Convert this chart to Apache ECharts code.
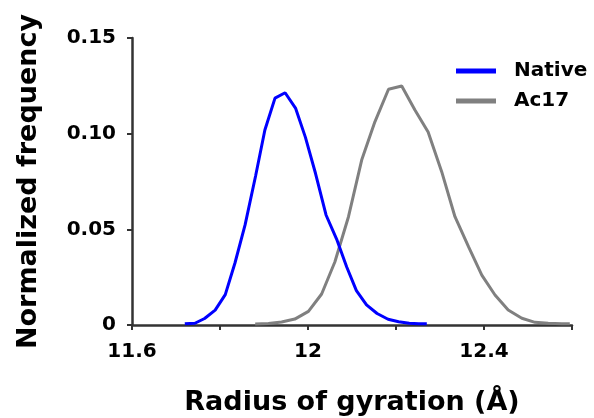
<!DOCTYPE html>
<html>
<head>
<meta charset="utf-8">
<script src="https://cdn.jsdelivr.net/npm/echarts@6/dist/echarts.min.js"></script>
<style>
  html, body { margin: 0; padding: 0; background: #fff; }
  #chart { width: 594px; height: 418px; }
</style>
</head>
<body>
<div id="chart"></div>
<script>
// Radius of gyration histograms (normalized frequency per bin)
const nativeX = [11.720, 11.743, 11.765, 11.789, 11.812, 11.834, 11.857, 11.881, 11.902, 11.925,
                 11.948, 11.972, 11.994, 12.017, 12.041, 12.065, 12.088, 12.110, 12.133, 12.157,
                 12.182, 12.206, 12.230, 12.252, 12.270];
const nativeY = [0.0006, 0.0009, 0.0034, 0.0078, 0.0159, 0.0324, 0.0523, 0.0780, 0.1019, 0.1186,
                 0.1214, 0.1132, 0.0982, 0.0793, 0.0575, 0.0449, 0.0303, 0.0180, 0.0105, 0.0060,
                 0.0030, 0.0017, 0.0009, 0.0007, 0.0007];

const ac17X = [11.880, 11.910, 11.940, 11.970, 12.001, 12.031, 12.061, 12.092, 12.122, 12.152,
               12.183, 12.213, 12.243, 12.273, 12.304, 12.334, 12.365, 12.395, 12.425, 12.455,
               12.486, 12.516, 12.546, 12.577, 12.595];
const ac17Y = [0.0005, 0.0008, 0.0016, 0.0031, 0.0071, 0.0162, 0.0329, 0.0566, 0.0862, 0.1062,
               0.1232, 0.1249, 0.1124, 0.1009, 0.0800, 0.0566, 0.0408, 0.0261, 0.0157, 0.0078,
               0.0035, 0.0014, 0.0009, 0.0007, 0.0007];

const seriesNames = ['Native', 'Ac17'];
const xTickLabels = ['11.6', '12', '12.4'];
const yTickLabels = ['0', '0.05', '0.10', '0.15'];

const FONT = 'DejaVu Sans';
const AXIS_COLOR = '#333333';

const pairs = (xs, ys) => xs.map((x, i) => [x, ys[i]]);
const near = (a, b) => Math.abs(a - b) < 1e-6;

const chart = echarts.init(document.getElementById('chart'), null, { renderer: 'canvas' });

chart.setOption({
  animation: false,
  backgroundColor: '#ffffff',
  grid: { left: 132, right: 22, top: 38, bottom: 93, outerBoundsMode: 'none', containLabel: false },
  legend: {
    data: seriesNames,
    left: 451,
    top: 56,
    orient: 'vertical',
    icon: 'rect',
    itemWidth: 40,
    itemHeight: 5,
    itemGap: 10,
    textStyle: { fontFamily: FONT, fontWeight: 'bold', fontSize: 20, color: '#000', padding: [0, 0, 0, 13] }
  },
  xAxis: {
    type: 'value',
    min: 11.6,
    max: 12.6,
    interval: 0.2,
    name: 'Radius of gyration (Å)',
    nameLocation: 'middle',
    nameGap: 64,
    nameTextStyle: { fontFamily: FONT, fontWeight: 'bold', fontSize: 27, color: '#000' },
    axisLine: { show: true, lineStyle: { color: AXIS_COLOR, width: 2.5 } },
    axisTick: { show: true, inside: false, length: 5, lineStyle: { color: AXIS_COLOR, width: 2 } },
    axisLabel: {
      margin: 17,
      fontFamily: FONT, fontWeight: 'bold', fontSize: 20, color: '#000',
      formatter: v => {
        const hit = xTickLabels.find(t => near(parseFloat(t), v));
        return hit !== undefined ? hit : '';
      }
    },
    splitLine: { show: false }
  },
  yAxis: {
    type: 'value',
    min: 0,
    max: 0.15,
    interval: 0.05,
    name: 'Normalized frequency',
    nameLocation: 'middle',
    nameGap: 90,
    nameTextStyle: { fontFamily: FONT, fontWeight: 'bold', fontSize: 27, color: '#000' },
    axisLine: { show: true, lineStyle: { color: AXIS_COLOR, width: 2.5 } },
    axisTick: { show: true, inside: false, length: 5, lineStyle: { color: AXIS_COLOR, width: 2 } },
    axisLabel: {
      margin: 16,
      fontFamily: FONT, fontWeight: 'bold', fontSize: 20, color: '#000',
      formatter: v => {
        const hit = yTickLabels.find(t => near(parseFloat(t), v));
        return hit !== undefined ? hit : '';
      }
    },
    splitLine: { show: false }
  },
  series: [
    {
      name: seriesNames[0],
      type: 'line',
      z: 3,
      showSymbol: false,
      color: '#0000ff',
      lineStyle: { color: '#0000ff', width: 3 },
      data: pairs(nativeX, nativeY)
    },
    {
      name: seriesNames[1],
      type: 'line',
      z: 2,
      showSymbol: false,
      color: '#808080',
      lineStyle: { color: '#808080', width: 3 },
      data: pairs(ac17X, ac17Y)
    }
  ]
});
</script>
</body>
</html>
